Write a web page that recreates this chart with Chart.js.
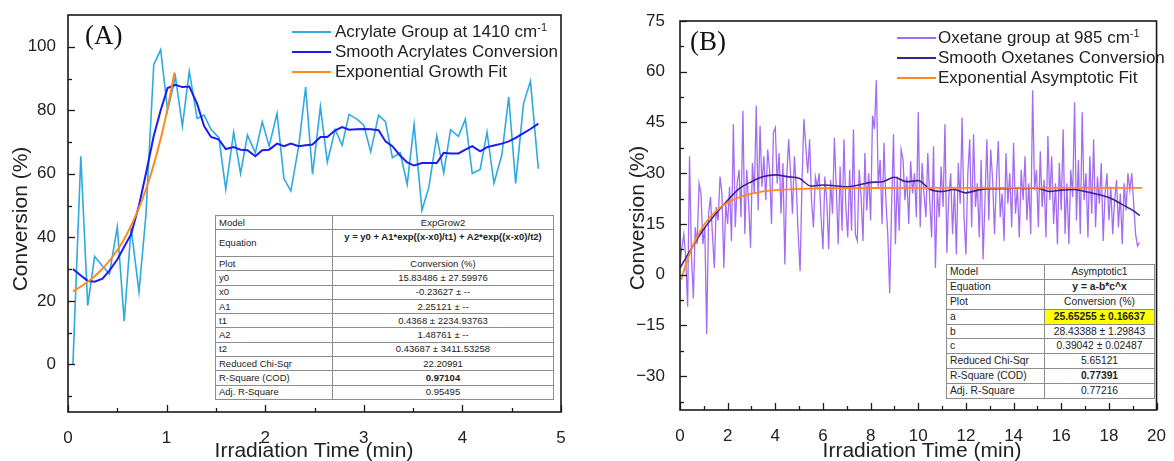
<!DOCTYPE html>
<html lang="en">
<head>
<meta charset="UTF-8">
<title>Acrylate and Oxetane Conversion</title>
<script src="https://cdn.jsdelivr.net/npm/chart.js@4"></script>
<style>
  body { margin: 0; background: #fff; font-family: "Liberation Sans", Arial, sans-serif; }
  #wrap { position: relative; width: 1174px; height: 461px; overflow: hidden; }
  canvas { position: absolute; top: 0; }
  .legend { position: absolute; font-size: 17px; color: #222; line-height: 20px; }
  .legend div { position: relative; height: 20px; white-space: nowrap; }
  .legend .ln { position: absolute; left: 0; top: 9px; width: 39px; border-top: 2px solid; }
  .legend .tx { position: absolute; top: 0; }
  .legend sup { font-size: 11px; vertical-align: 6px; line-height: 0; }
  .panel { position: absolute; font-family: "Liberation Serif", "Times New Roman", serif; font-size: 27px; color: #111; line-height: 30px; }
  table.fit { position: absolute; border-collapse: collapse; table-layout: fixed; background: #fff; color: #222; }
  table.fit td { border: 1px solid #8c8c8c; padding: 0 3px; white-space: nowrap; overflow: hidden; line-height: 12px; }
  table.fit td.v { text-align: center; }
  table.fit td.b { font-weight: bold; }
  table.fit td.hl { background: #ffff00; }
  table.fit td.top { vertical-align: top; padding-top: 1px; }
</style>
</head>
<body>
<div id="wrap">
  <canvas id="chartA" width="587" height="461" style="left:0"></canvas>
  <canvas id="chartB" width="587" height="461" style="left:587px"></canvas>

  <div class="panel" style="left:85px; top:20px">(A)</div>
  <div class="panel" style="left:690px; top:26px">(B)</div>

  <div class="legend" style="left:292px; top:22px">
    <div><span class="ln" style="border-color:#2eaae1"></span><span class="tx" style="left:43px">Acrylate Group at 1410 cm<sup>-1</sup></span></div>
    <div><span class="ln" style="border-color:#1c1cf0"></span><span class="tx" style="left:43px">Smooth Acrylates Conversion</span></div>
    <div><span class="ln" style="border-color:#ff8a1c"></span><span class="tx" style="left:43px">Exponential Growth Fit</span></div>
  </div>
  <div class="legend" style="left:897px; top:28px">
    <div><span class="ln" style="border-color:#a46cf0"></span><span class="tx" style="left:41px">Oxetane group at 985 cm<sup>-1</sup></span></div>
    <div><span class="ln" style="border-color:#3f1f96"></span><span class="tx" style="left:41px">Smooth Oxetanes Conversion</span></div>
    <div><span class="ln" style="border-color:#ff8a1c"></span><span class="tx" style="left:41px">Exponential Asymptotic Fit</span></div>
  </div>

  <table class="fit" id="tableA" style="left:215px; top:215px; width:339px; font-size:9.5px"></table>
  <table class="fit" id="tableB" style="left:946px; top:264px; width:209px; font-size:10.3px"></table>
</div>

<script>
// ---- panel A: acrylate ----
const acrylateTime = [0.05, 0.13, 0.20, 0.27, 0.35, 0.42, 0.50, 0.57, 0.64, 0.72, 0.79, 0.87, 0.94,
  1.01, 1.09, 1.16, 1.23, 1.31, 1.38, 1.45, 1.53, 1.60, 1.68, 1.75, 1.82, 1.90, 1.97,
  2.04, 2.12, 2.19, 2.26, 2.34, 2.41, 2.48, 2.56, 2.63, 2.71, 2.78, 2.85, 2.93,
  3.00, 3.07, 3.15, 3.22, 3.29, 3.37, 3.44, 3.51, 3.59, 3.66, 3.74, 3.81, 3.88, 3.96,
  4.03, 4.10, 4.18, 4.25, 4.32, 4.40, 4.47, 4.54, 4.62, 4.69, 4.77];
const acrylateConv = [0, 65.5, 18.5, 34, 31, 28.5, 43.3, 13.6, 43, 22.8, 47, 94.4, 99.1,
  80, 90.5, 75, 92.3, 77.4, 78.5, 74, 71.4, 55.1, 73.1, 60.1, 72.2, 66.6, 76.4,
  68.7, 79, 58.5, 54.6, 68.7, 87.3, 59.8, 81.1, 63.7, 73.9, 69, 78.7, 77.2,
  75.3, 66.9, 78.4, 76.4, 65.1, 66.6, 56.7, 75.5, 48.5, 55.8, 72, 60.3, 73.9, 71.8,
  77.2, 60.1, 61.4, 73.1, 57, 66, 84.2, 57, 82.1, 89.2, 61.6];
const acrylateSmooth = [30, 28, 26.3, 26, 27, 29.5, 33, 37, 41, 50, 60, 72, 80,
  87, 88, 87.3, 87.5, 82, 75, 71.6, 70.8, 67.8, 68.4, 67.6, 67.4, 65.5, 67.4,
  67.6, 69.5, 68.7, 69.5, 68.7, 69, 69.2, 71.6, 71.6, 73.7, 74.7, 73.9, 74,
  74.1, 74, 73.7, 70.2, 68.7, 65.7, 63.6, 62.6, 63.4, 63.4, 63.4, 66.6, 66.4, 66.4,
  67.6, 68.7, 67.1, 68.4, 68.9, 69.5, 70.2, 71.3, 72.8, 74.1, 75.8];
const growthFitTime = [0.05, 0.15, 0.25, 0.35, 0.45, 0.55, 0.65, 0.75, 0.85, 0.95, 1.02, 1.08];
const growthFitConv = [23.0, 24.9, 27.2, 30.1, 33.8, 38.4, 44.3, 51.6, 60.8, 72.3, 82.1, 91.9];

// ---- panel B: oxetane ----
const oxetaneTime = [
  0, 0.08, 0.16, 0.24, 0.32, 0.4, 0.48, 0.56, 0.64, 0.72, 0.8, 0.88, 0.96, 1.04, 1.12, 1.2, 1.28, 1.36, 1.44, 1.52, 1.6, 1.68, 1.76, 1.84, 1.92,
  2, 2.08, 2.16, 2.24, 2.32, 2.4, 2.48, 2.56, 2.64, 2.72, 2.8, 2.88, 2.96, 3.04, 3.12, 3.2, 3.28, 3.36, 3.44, 3.52, 3.6, 3.68, 3.76, 3.84, 3.92,
  4, 4.08, 4.16, 4.24, 4.32, 4.4, 4.48, 4.56, 4.64, 4.72, 4.8, 4.88, 4.96, 5.04, 5.12, 5.2, 5.28, 5.36, 5.44, 5.52, 5.6, 5.68, 5.76, 5.84, 5.92,
  6, 6.08, 6.16, 6.24, 6.32, 6.4, 6.48, 6.56, 6.64, 6.72, 6.8, 6.88, 6.96, 7.04, 7.12, 7.2, 7.28, 7.36, 7.44, 7.52, 7.6, 7.68, 7.76, 7.84, 7.92,
  8, 8.08, 8.16, 8.24, 8.32, 8.4, 8.48, 8.56, 8.64, 8.72, 8.8, 8.88, 8.96, 9.04, 9.12, 9.2, 9.28, 9.36, 9.44, 9.52, 9.6, 9.68, 9.76, 9.84, 9.92,
  10, 10.08, 10.16, 10.24, 10.32, 10.4, 10.48, 10.56, 10.64, 10.72, 10.8, 10.88, 10.96, 11.04, 11.12, 11.2, 11.28, 11.36, 11.44, 11.52, 11.6, 11.68, 11.76, 11.84, 11.92,
  12, 12.08, 12.16, 12.24, 12.32, 12.4, 12.48, 12.56, 12.64, 12.72, 12.8, 12.88, 12.96, 13.04, 13.12, 13.2, 13.28, 13.36, 13.44, 13.52, 13.6, 13.68, 13.76, 13.84, 13.92,
  14, 14.08, 14.16, 14.24, 14.32, 14.4, 14.48, 14.56, 14.64, 14.72, 14.8, 14.88, 14.96, 15.04, 15.12, 15.2, 15.28, 15.36, 15.44, 15.52, 15.6, 15.68, 15.76, 15.84, 15.92,
  16, 16.08, 16.16, 16.24, 16.32, 16.4, 16.48, 16.56, 16.64, 16.72, 16.8, 16.88, 16.96, 17.04, 17.12, 17.2, 17.28, 17.36, 17.44, 17.52, 17.6, 17.68, 17.76, 17.84, 17.92,
  18, 18.08, 18.16, 18.24, 18.32, 18.4, 18.48, 18.56, 18.64, 18.72, 18.8, 18.88, 18.96, 19.04, 19.12, 19.2, 19.28];
const oxetaneConv = [
  3, 8, 12, 5, -9.5, 35, 6, -7, 14, 9, 27, 24, 9, 14, -17.5, 18, 23, 12, 2, 20, 16, 29, 24, 2, 21,
  15, 26, 10, 44.5, 14, 27, 31, 17, 48.5, 12, 31, 21, 8, 33, 24, 50, 19, 44, 26, 35, 22, 37, 31, 15, 42,
  43.5, 27, 36, 18, 33, 3, 29, 40, 30, 18, 35, 26, 12, 1, 27, 46, 38, 30, 40, 22, 14, 29, 26, 30, 17,
  7.5, 29, 22, 7.5, 28, 18, 40.5, 25, 9, 32, 13, 40, 20, 11, 31, 13, 43, 12, 10, 31, 23, 10, 36, 19, 30,
  16, 47, 43, 57.5, 26, 34, 15, 39, 22, 12, -5.5, 20, 41.5, 9, 29, 13, 37, 34, 22, 29, 15, 33.5, 24, 30, 17,
  48, 14, 33, 24, 17, 36, 22, 11, 38, 2, 25, 17, 32, 20, 44.5, 6.5, 23, 30, 12, 26, 6, 33, 21, 46.5, 17,
  6, 30, 40, 14, 41.5, 20, 27, 11, 34, 4.5, 22, 40, 16, 37, 28, 12, 28, 39.5, 17, 24, 10, 36, 21, 30, 14,
  39, 18, 26, 11, 31, 22, 35, 16, 27, 12, 54.5, 25, 31, 14, 36.5, 20, 28, 11, 41, 22, 35, 15, 27, 9, 33,
  19, 43, 12, 27, 9, 31, 23, 51, 16, 34, 12, 48, 22, 30, 11, 35, 18, 40, 14, 29, 21, 33, 10, 24, 30,
  16, 26, 12, 22, 28, 14, 24, 9, 27, 19, 30, 25, 30, 21, 12, 8.5, 9.5];
const oxetaneSmoothTime = [0, 0.5, 1, 1.5, 2, 2.5, 3, 3.5, 4, 4.5, 5, 5.5, 6, 6.5, 7, 7.5, 8, 8.5, 9, 9.5,
  10, 10.5, 11, 11.5, 12, 12.5, 13, 13.5, 14, 14.5, 15, 15.5, 16, 16.5, 17, 17.5, 18, 18.5, 19, 19.3];
const oxetaneSmooth = [2, 8, 13.5, 18, 22, 25.5, 27.5, 29, 29.5, 29, 28.5, 26.2, 26.5, 26.3, 26, 26.5, 27.3, 27.5, 28.8, 27.5,
  27.8, 25.2, 24.6, 25.2, 24.2, 25, 25.4, 25.4, 25.6, 25.5, 25.6, 24.6, 25, 25.2, 24.6, 23.8, 22.8, 21, 19, 17.5];
const asymFitTime = [0.05, 0.25, 0.5, 0.75, 1, 1.25, 1.5, 1.75, 2, 2.25, 2.5, 2.75, 3, 3.25, 3.5, 4, 5, 6, 8, 10, 14, 19.4];
const asymFitConv = [-1.5, 3.2, 7.9, 11.6, 14.6, 16.9, 18.7, 20.2, 21.3, 22.2, 22.9, 23.5, 24.0, 24.3, 24.6, 25.0, 25.4, 25.55, 25.63, 25.65, 25.65, 25.65];

// ---- axes ----
const xTicksA = [0, 1, 2, 3, 4, 5];
const xMinorA = [0.5, 1.5, 2.5, 3.5, 4.5];
const yTicksA = [0, 20, 40, 60, 80, 100];
const yMinorA = [-10, 10, 30, 50, 70, 90];
const xTicksB = [0, 2, 4, 6, 8, 10, 12, 14, 16, 18, 20];
const xMinorB = [1, 3, 5, 7, 9, 11, 13, 15, 17, 19];
const yTicksB = [-30, -15, 0, 15, 30, 45, 60, 75];
const yMinorB = [-37.5, -22.5, -7.5, 7.5, 22.5, 37.5, 52.5, 67.5];

// ---- fit tables ----
const fitRowsA = [
  ['Model', 'ExpGrow2'],
  ['Equation', 'y = y0 + A1*exp((x-x0)/t1) + A2*exp((x-x0)/t2)'],
  ['Plot', 'Conversion (%)'],
  ['y0', '15.83486 \u00b1 27.59976'],
  ['x0', '-0.23627 \u00b1 --'],
  ['A1', '2.25121 \u00b1 --'],
  ['t1', '0.4368 \u00b1 2234.93763'],
  ['A2', '1.48761 \u00b1 --'],
  ['t2', '0.43687 \u00b1 3411.53258'],
  ['Reduced Chi-Sqr', '22.20991'],
  ['R-Square (COD)', '0.97104'],
  ['Adj. R-Square', '0.95495']
];
const fitRowsB = [
  ['Model', 'Asymptotic1'],
  ['Equation', 'y = a-b*c^x'],
  ['Plot', 'Conversion (%)'],
  ['a', '25.65255 \u00b1 0.16637'],
  ['b', '28.43388 \u00b1 1.29843'],
  ['c', '0.39042 \u00b1 0.02487'],
  ['Reduced Chi-Sqr', '5.65121'],
  ['R-Square (COD)', '0.77391'],
  ['Adj. R-Square', '0.77216']
];

function buildTable(id, rows, col1, rowH, eqH, highlight) {
  const t = document.getElementById(id);
  const cg = document.createElement('colgroup');
  cg.innerHTML = '<col style="width:' + col1 + 'px"><col>';
  t.appendChild(cg);
  rows.forEach(([k, v]) => {
    const tr = document.createElement('tr');
    tr.style.height = (k === 'Equation' ? eqH : rowH) + 'px';
    const a = document.createElement('td');
    a.textContent = k;
    const b = document.createElement('td');
    b.textContent = v;
    b.className = 'v';
    if (k === 'Equation' || k === 'R-Square (COD)') b.className += ' b';
    if (k === 'Equation' && eqH > rowH) b.className += ' top';
    if (k === highlight) b.className += ' b hl';
    tr.appendChild(a);
    tr.appendChild(b);
    t.appendChild(tr);
  });
}
buildTable('tableA', fitRowsA, 117, 14.3, 26.7, null);
buildTable('tableB', fitRowsB, 98, 14.9, 14.9, 'a');

const pairs = (xs, ys) => xs.map((x, i) => ({ x: x, y: ys[i] }));
const tickFont = { family: '"Liberation Sans", Arial, sans-serif', size: 17 };

// frame, inward ticks and axis titles, Origin style
const frameTicks = {
  id: 'frameTicks',
  afterDatasetsDraw(chart, args, o) {
    const { ctx, chartArea: a, scales } = chart;
    const x = scales.x, y = scales.y;
    ctx.save();
    ctx.strokeStyle = '#1a1a1a';
    ctx.lineWidth = 1.6;
    ctx.strokeRect(a.left, a.top, a.right - a.left, a.bottom - a.top);
    ctx.lineWidth = 1.3;
    const xt = (vals, len) => vals.forEach(v => {
      const px = Math.round(x.getPixelForValue(v)) + 0.5;
      ctx.beginPath(); ctx.moveTo(px, a.bottom); ctx.lineTo(px, a.bottom - len); ctx.stroke();
    });
    const yt = (vals, len) => vals.forEach(v => {
      const py = Math.round(y.getPixelForValue(v)) + 0.5;
      ctx.beginPath(); ctx.moveTo(a.left, py); ctx.lineTo(a.left + len, py); ctx.stroke();
    });
    xt(o.xMajor, 7); xt(o.xMinor, 4);
    yt(o.yMajor, 7); yt(o.yMinor, 4);

    ctx.fillStyle = '#222';
    ctx.font = '21px "Liberation Sans", Arial, sans-serif';
    ctx.textAlign = 'center';
    ctx.textBaseline = 'alphabetic';
    ctx.fillText(o.xTitle, o.xTitlePos[0], o.xTitlePos[1]);
    ctx.translate(o.yTitlePos[0], o.yTitlePos[1]);
    ctx.rotate(-Math.PI / 2);
    ctx.fillText(o.yTitle, 0, 0);
    ctx.restore();
  }
};

function panelChart(id, p) {
  return new Chart(document.getElementById(id), {
    type: 'line',
    data: { datasets: p.datasets },
    options: {
      responsive: false,
      animation: false,
      layout: { padding: p.padding },
      elements: { point: { radius: 0 } },
      plugins: {
        legend: { display: false },
        tooltip: { enabled: false },
        frameTicks: p.frame
      },
      scales: {
        x: {
          type: 'linear', min: p.xRange[0], max: p.xRange[1],
          grid: { display: false }, border: { display: false },
          ticks: { padding: 8, font: tickFont, color: '#222', maxRotation: 0, autoSkip: false },
          afterBuildTicks: s => { s.ticks = p.frame.xMajor.map(v => ({ value: v })); },
          afterFit: s => { s.height = p.xHeight; }
        },
        y: {
          type: 'linear', min: p.yRange[0], max: p.yRange[1],
          grid: { display: false }, border: { display: false },
          ticks: {
            padding: p.yPad, font: tickFont, color: '#222', autoSkip: false,
            callback: v => v < 0 ? '\u2212' + (-v) : String(v)
          },
          afterBuildTicks: s => { s.ticks = p.frame.yMajor.map(v => ({ value: v })); },
          afterFit: s => { s.width = p.yWidth; }
        }
      }
    },
    plugins: [frameTicks]
  });
}

panelChart('chartA', {
  padding: { top: 15, right: 26, left: 0, bottom: 0 },
  xRange: [0, 5], yRange: [-15, 110], xHeight: 49, yWidth: 68, yPad: 4,
  frame: {
    xMajor: xTicksA, xMinor: xMinorA, yMajor: yTicksA, yMinor: yMinorA,
    xTitle: 'Irradiation Time (min)', xTitlePos: [314, 457],
    yTitle: 'Conversion (%)', yTitlePos: [27, 219]
  },
  datasets: [
    { label: 'Acrylate Group at 1410 cm-1', data: pairs(acrylateTime, acrylateConv),
      borderColor: '#2eaae1', borderWidth: 1.6, tension: 0, order: 2 },
    { label: 'Smooth Acrylates Conversion', data: pairs(acrylateTime, acrylateSmooth),
      borderColor: '#1c1cf0', borderWidth: 2, tension: 0, order: 1 },
    { label: 'Exponential Growth Fit', data: pairs(growthFitTime, growthFitConv),
      borderColor: '#ff8a1c', borderWidth: 2, cubicInterpolationMode: 'monotone', order: 0 }
  ]
});

panelChart('chartB', {
  padding: { top: 21, right: 13, left: 0, bottom: 0 },
  xRange: [0, 20], yRange: [-40, 75], xHeight: 51, yWidth: 93, yPad: 7,
  frame: {
    xMajor: xTicksB, xMinor: xMinorB, yMajor: yTicksB, yMinor: yMinorB,
    xTitle: 'Irradiation Time (min)', xTitlePos: [335, 457],
    yTitle: 'Conversion (%)', yTitlePos: [57, 218]
  },
  datasets: [
    { label: 'Oxetane group at 985 cm-1', data: pairs(oxetaneTime, oxetaneConv),
      borderColor: '#a46cf0', borderWidth: 1.3, tension: 0, order: 2 },
    { label: 'Smooth Oxetanes Conversion', data: pairs(oxetaneSmoothTime, oxetaneSmooth),
      borderColor: '#3f1f96', borderWidth: 1.6, cubicInterpolationMode: 'monotone', order: 1 },
    { label: 'Exponential Asymptotic Fit', data: pairs(asymFitTime, asymFitConv),
      borderColor: '#ff8a1c', borderWidth: 1.8, cubicInterpolationMode: 'monotone', order: 0 }
  ]
});
</script>
</body>
</html>
